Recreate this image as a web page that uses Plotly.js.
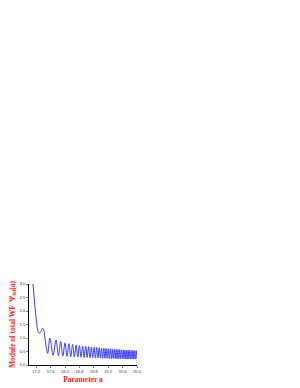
<!DOCTYPE html>
<html>
<head>
<meta charset="utf-8">
<script src="https://cdn.plot.ly/plotly-3.0.1.min.js"></script>
<style>html,body{margin:0;padding:0;background:#fff;}#chart{width:300px;height:388px;}</style>
</head>
<body>
<div id="chart"></div>
<script>
// Initial steep decay
const headX = [17.11, 17.14, 17.17, 17.20, 17.23, 17.26, 17.29, 17.33, 17.37, 17.40, 17.44, 17.48, 17.52];
const headY = [3.0, 2.55, 2.1, 1.7, 1.38, 1.2, 1.17, 1.25, 1.36, 1.33, 1.05, 0.65, 0.43];
// Oscillation peaks (estimated)
const peakX = [17.58, 17.75, 17.88, 18.00, 18.11, 18.21, 18.31, 18.40, 18.49, 18.575, 18.655, 18.735, 18.81, 18.88, 18.95, 19.015, 19.08, 19.14, 19.20, 19.26, 19.315, 19.37, 19.42, 19.47, 19.52, 19.57, 19.62, 19.665, 19.71, 19.755, 19.80, 19.845, 19.89, 19.935, 19.98];
const peakY = [1.00, 0.92, 0.87, 0.82, 0.79, 0.76, 0.74, 0.72, 0.70, 0.69, 0.68, 0.67, 0.66, 0.65, 0.64, 0.63, 0.62, 0.61, 0.60, 0.60, 0.59, 0.58, 0.58, 0.57, 0.57, 0.56, 0.56, 0.55, 0.55, 0.55, 0.54, 0.54, 0.54, 0.53, 0.53];
// Oscillation troughs (estimated), one after each peak
const troughX = [17.67, 17.82, 17.94, 18.055, 18.16, 18.26, 18.355, 18.445, 18.53, 18.615, 18.695, 18.77, 18.845, 18.915, 18.98, 19.045, 19.11, 19.17, 19.23, 19.29, 19.34, 19.395, 19.445, 19.495, 19.545, 19.595, 19.64, 19.69, 19.73, 19.775, 19.82, 19.865, 19.91, 19.955, 20.00];
const troughY = [0.36, 0.34, 0.33, 0.32, 0.31, 0.30, 0.29, 0.29, 0.28, 0.28, 0.27, 0.27, 0.26, 0.26, 0.26, 0.25, 0.25, 0.25, 0.24, 0.24, 0.24, 0.24, 0.23, 0.23, 0.23, 0.23, 0.23, 0.22, 0.22, 0.22, 0.22, 0.22, 0.22, 0.22, 0.22];

const xs = headX.slice(), ys = headY.slice();
for (let i = 0; i < peakX.length; i++) {
  xs.push(peakX[i]); ys.push(peakY[i]);
  xs.push(troughX[i]); ys.push(troughY[i]);
}

const trace = {
  x: xs, y: ys, type: 'scatter', mode: 'lines',
  line: {color: '#3a3aff', width: 1, shape: 'spline', smoothing: 1},
  hoverinfo: 'skip'
};

const tickFont = {family: 'Liberation Sans, Arial, sans-serif', size: 4, color: '#333'};
const titleFont = {family: 'Liberation Serif, Times New Roman, serif', size: 7.5, color: '#ff2020', weight: 'bold'};

const layout = {
  width: 300, height: 388,
  margin: {l: 29, r: 163, t: 284, b: 23, pad: 0},
  paper_bgcolor: '#fff', plot_bgcolor: '#fff',
  showlegend: false,
  xaxis: {
    range: [17.0, 20.0], tick0: 17.2, dtick: 0.4, tickformat: '.1f',
    showgrid: false, zeroline: false, showline: true, linecolor: '#000', linewidth: 1,
    ticks: 'outside', ticklen: 2, tickwidth: 0.5, tickcolor: '#000',
    tickfont: tickFont,
    title: {text: '<b>Parameter a</b>', font: titleFont, standoff: 3}
  },
  yaxis: {
    range: [0, 3.0], dtick: 0.5, tickformat: '.1f',
    showgrid: false, zeroline: false, showline: true, linecolor: '#000', linewidth: 1,
    ticks: 'outside', ticklen: 2, tickwidth: 0.5, tickcolor: '#000',
    tickfont: tickFont,
    title: {text: '<b>Module of total WF  Ψ<sub>tot</sub>(a)</b>', font: titleFont, standoff: 3}
  }
};

Plotly.newPlot('chart', [trace], layout, {displayModeBar: false, staticPlot: true});
</script>
</body>
</html>
